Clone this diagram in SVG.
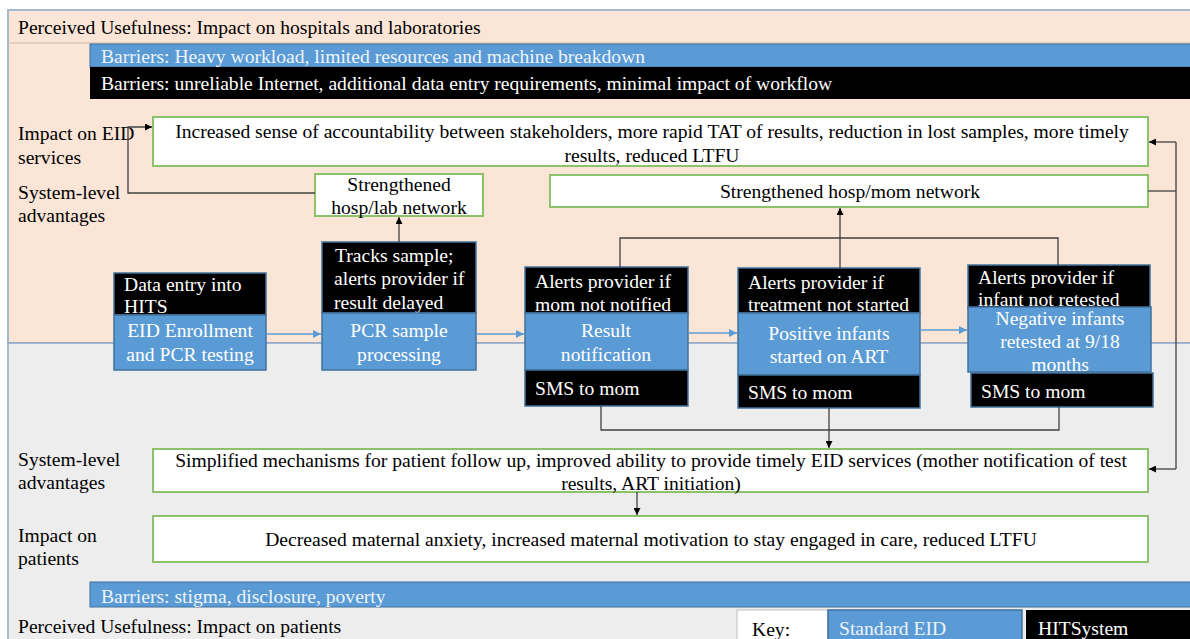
<svg xmlns="http://www.w3.org/2000/svg" width="1190" height="639" viewBox="0 0 1190 639">
<defs>
<style>
text{font-family:"Liberation Serif","Times New Roman",serif;font-size:19.6px;dominant-baseline:central;fill:#000}
.w{fill:#fff}
.lt{fill:#EEF4FB}
.c{text-anchor:middle}
.blue{fill:#5B9BD5;stroke:#41719C;stroke-width:1.5}
.blk{fill:#000;stroke:#41719C;stroke-width:1.5}
.grn{fill:#fff;stroke:#8CC36A;stroke-width:2}
.ln{fill:none;stroke:#404040;stroke-width:1.3}
.bl{fill:none;stroke:#5B9BD5;stroke-width:1.5}
</style>
<marker id="ah" viewBox="0 0 10 10" refX="10" refY="5" markerWidth="7" markerHeight="7" orient="auto" markerUnits="userSpaceOnUse"><path d="M0,0L10,5L0,10z" fill="#000"/></marker>
<marker id="bh" viewBox="0 0 10 10" refX="10" refY="5" markerWidth="8" markerHeight="8" orient="auto" markerUnits="userSpaceOnUse"><path d="M0,0L10,5L0,10z" fill="#5B9BD5"/></marker>
</defs>
<rect width="1190" height="639" fill="#fff"/>
<g id="panel-top">
<rect x="8" y="10" width="1190" height="333" fill="#FBE5D6" stroke="#A8B8CC" stroke-width="2"/>
<line x1="8" y1="43" x2="1190" y2="43" stroke="#C9B8AE" stroke-width="1"/>
<text x="18" y="27">Perceived Usefulness: Impact on hospitals and laboratories</text>
<rect x="90" y="44" width="1105" height="23" fill="#5B9BD5" stroke="#41719C" stroke-width="1"/>
<text x="101" y="56" class="lt">Barriers: Heavy workload, limited resources and machine breakdown</text>
<rect x="90" y="67" width="1105" height="32" fill="#000"/>
<text x="101" y="83" class="w">Barriers: unreliable Internet, additional data entry requirements, minimal impact of workflow</text>
<text x="18" y="133">Impact on EID</text>
<text x="18" y="157">services</text>
<text x="18" y="192">System-level</text>
<text x="18" y="215">advantages</text>
</g>
<g id="panel-bottom">
<rect x="8" y="343" width="1190" height="300" fill="#EDEDED" stroke="#8FA8C8" stroke-width="1.5"/>
<text x="18" y="459">System-level</text>
<text x="18" y="482">advantages</text>
<text x="18" y="535">Impact on</text>
<text x="18" y="558">patients</text>
<rect x="90" y="582" width="1105" height="25" fill="#5B9BD5" stroke="#41719C" stroke-width="1"/>
<text x="101" y="596" class="lt">Barriers: stigma, disclosure, poverty</text>
<text x="18" y="626">Perceived Usefulness: Impact on patients</text>
</g>
<g id="key">
<rect x="737" y="610" width="91" height="32" fill="#fff" stroke="#BFBFBF" stroke-width="1"/>
<text x="752" y="629">Key:</text>
<rect x="828" y="610" width="194" height="32" class="blue"/>
<text x="839" y="628" class="lt">Standard EID</text>
<rect x="1026" y="610" width="166" height="32" fill="#000"/>
<text x="1038" y="628" class="w">HITSystem</text>
</g>
<g id="impact-eid">
<rect x="153" y="117" width="995" height="49" class="grn"/>
<text x="652" y="131" class="c">Increased sense of accountability between stakeholders, more rapid TAT of results, reduction in lost samples, more timely</text>
<text x="652" y="155" class="c">results, reduced LTFU</text>
</g>
<g id="hosp-lab">
<rect x="315" y="174" width="168" height="42" class="grn"/>
<text x="399" y="184" class="c">Strengthened</text>
<text x="399" y="207" class="c">hosp/lab network</text>
</g>
<g id="hosp-mom">
<rect x="550" y="175" width="598" height="32" class="grn"/>
<text x="850" y="191" class="c">Strengthened hosp/mom network</text>
</g>
<g id="n1">
<rect x="114" y="273" width="152" height="42" class="blk"/>
<text x="124" y="284" class="w">Data entry into</text>
<text x="124" y="306" class="w">HITS</text>
<rect x="114" y="315" width="152" height="55" class="blue"/>
<text x="190" y="330" class="c w">EID Enrollment</text>
<text x="190" y="354" class="c w">and PCR testing</text>
</g>
<g id="n2">
<rect x="322" y="242" width="154" height="71" class="blk"/>
<text x="335" y="255" class="w">Tracks sample;</text>
<text x="334" y="278" class="w">alerts provider if</text>
<text x="334" y="302" class="w">result delayed</text>
<rect x="322" y="313" width="154" height="57" class="blue"/>
<text x="399" y="330" class="c w">PCR sample</text>
<text x="399" y="354" class="c w">processing</text>
</g>
<g id="n3">
<rect x="525" y="267" width="163" height="46" class="blk"/>
<text x="535" y="281" class="w">Alerts provider if</text>
<text x="535" y="304" class="w">mom not notified</text>
<rect x="525" y="313" width="163" height="57" class="blue"/>
<text x="606" y="330" class="c w">Result</text>
<text x="606" y="354" class="c w">notification</text>
<rect x="525" y="370" width="163" height="36" class="blk"/>
<text x="535" y="388" class="w">SMS to mom</text>
</g>
<g id="n4">
<rect x="738" y="268" width="182" height="45" class="blk"/>
<text x="748" y="282" class="w">Alerts provider if</text>
<text x="748" y="304" class="w">treatment not started</text>
<rect x="738" y="313" width="182" height="62" class="blue"/>
<text x="829" y="333" class="c w">Positive infants</text>
<text x="829" y="356" class="c w">started on ART</text>
<rect x="738" y="375" width="182" height="33" class="blk"/>
<text x="748" y="392" class="w">SMS to mom</text>
</g>
<g id="n5">
<rect x="968" y="265" width="182" height="44" class="blk"/>
<text x="978" y="277" class="w">Alerts provider if</text>
<text x="978" y="299" class="w">infant not retested</text>
<rect x="968" y="307" width="183" height="65" class="blue"/>
<text x="1060" y="318" class="c w">Negative infants</text>
<text x="1060" y="341" class="c w">retested at 9/18</text>
<text x="1060" y="364" class="c w">months</text>
<rect x="971" y="373" width="182" height="34" class="blk"/>
<text x="981" y="391" class="w">SMS to mom</text>
</g>
<g id="simplified">
<rect x="153" y="449" width="995" height="43" class="grn"/>
<text x="651" y="460" class="c">Simplified mechanisms for patient follow up, improved ability to provide timely EID services (mother notification of test</text>
<text x="651" y="483" class="c">results, ART initiation)</text>
</g>
<g id="decreased">
<rect x="153" y="516" width="995" height="46" class="grn"/>
<text x="651" y="539" class="c">Decreased maternal anxiety, increased maternal motivation to stay engaged in care, reduced LTFU</text>
</g>
<g id="connectors">
<line x1="266" y1="334" x2="321" y2="334" class="bl" marker-end="url(#bh)"/>
<line x1="476" y1="334" x2="524" y2="334" class="bl" marker-end="url(#bh)"/>
<line x1="688" y1="333" x2="737" y2="333" class="bl" marker-end="url(#bh)"/>
<line x1="920" y1="330" x2="967" y2="330" class="bl" marker-end="url(#bh)"/>
<line x1="399" y1="242" x2="399" y2="217" class="ln" marker-end="url(#ah)"/>
<polyline points="315,193 128,193 128,127 152,127" class="ln" marker-end="url(#ah)"/>
<polyline points="620,267 620,238 1058,238 1058,265" class="ln"/>
<line x1="840" y1="268" x2="840" y2="208" class="ln" marker-end="url(#ah)"/>
<polyline points="601,406 601,430 1059,430 1059,407" class="ln"/>
<line x1="829" y1="408" x2="829" y2="448" class="ln" marker-end="url(#ah)"/>
<line x1="1148" y1="191" x2="1176" y2="191" class="ln"/>
<polyline points="1176,142 1176,469" class="ln"/>
<line x1="1176" y1="142" x2="1149" y2="142" class="ln" marker-end="url(#ah)"/>
<line x1="1176" y1="469" x2="1149" y2="469" class="ln" marker-end="url(#ah)"/>
<line x1="637" y1="492" x2="637" y2="515" class="ln" marker-end="url(#ah)"/>
</g>
</svg>
